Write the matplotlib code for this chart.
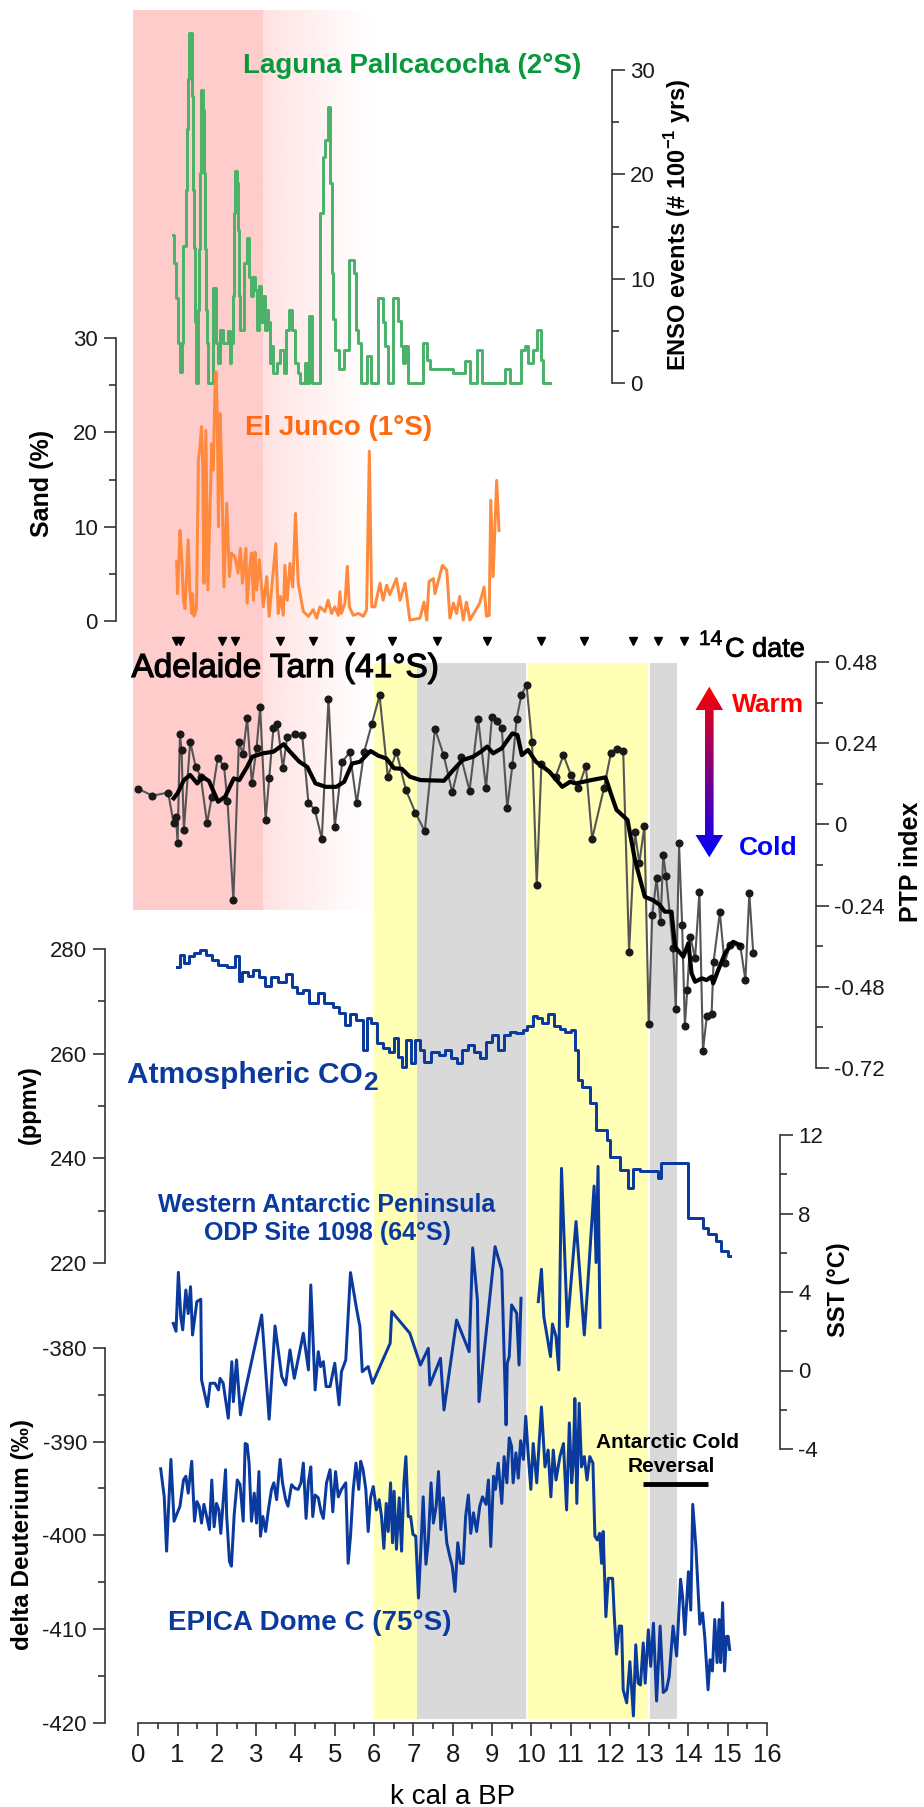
import numpy as np
import matplotlib
matplotlib.use('Agg')
import matplotlib.pyplot as plt
import matplotlib.patheffects as pe
from matplotlib.patches import Polygon, Rectangle
from matplotlib.colors import LinearSegmentedColormap, to_rgb
from matplotlib.ticker import MultipleLocator, FixedLocator, FuncFormatter

plt.rcParams['font.family'] = ['Liberation Sans', 'DejaVu Sans']
plt.rcParams['axes.unicode_minus'] = False
plt.rcParams['mathtext.fontset'] = 'custom'
plt.rcParams['mathtext.rm'] = 'Liberation Sans'
plt.rcParams['mathtext.bf'] = 'Liberation Sans:bold'

# ---------------- data ----------------
# Laguna Pallcacocha ENSO events (# per 100 yr), step series
lag_age = [0.89,0.92,0.96,1.02,1.06,1.10,1.15,1.21,1.25,1.27,
           1.30,1.37,1.40,1.42,1.45,1.47,1.53,1.55,1.57,1.59,
           1.65,1.67,1.70,1.72,1.76,1.78,1.91,1.98,2.04,2.09,
           2.16,2.29,2.33,2.37,2.42,2.43,2.47,2.52,2.54,2.57,
           2.60,2.69,2.76,2.81,2.86,2.91,2.98,3.03,3.08,3.13,
           3.18,3.22,3.27,3.31,3.35,3.39,3.44,3.52,3.60,3.71,
           3.77,3.84,3.91,3.99,4.07,4.11,4.24,4.30,4.35,4.42,
           4.62,4.69,4.76,4.82,4.89,4.93,4.96,5.00,5.12,5.23,
           5.37,5.49,5.54,5.60,5.68,5.81,5.91,6.11,6.23,6.29,
           6.36,6.49,6.62,6.68,6.74,6.80,6.87,7.24,7.35,7.42,
           8.02,8.31,8.44,8.61,8.74,9.33,9.46,9.73,9.84,9.92,
           10.05,10.15,10.26,10.31,10.48]
lag_val = [14.2,11.5,8.1,3.8,1.1,3.8,13.1,18.5,24.3,29.1,
           33.5,27.5,18.5,12.9,5.8,0,7.0,12.8,20.1,28.1,
           26.2,20.1,12.8,7.0,3.8,0,9.1,3.8,1.9,5.1,
           3.8,5.0,1.9,3.8,8.3,16.3,20.3,19.2,14.7,8.3,
           5.1,11.5,13.9,10.2,8.3,10.2,8.9,5.1,9.3,5.8,
           8.3,5.1,7.0,5.8,1.9,3.5,1.0,1.9,3.2,1.0,
           5.1,7.0,5.1,1.9,1.0,0,1.9,0,6.4,0,
           16.3,21.7,23.3,26.5,19.2,10.5,6.1,3.2,1.3,3.2,
           11.8,10.5,5.1,3.8,0,2.6,0,8.1,5.8,3.5,
           0,8.1,5.9,3.5,1.9,3.5,0,3.8,2.2,1.3,
           1.0,2.1,0,3.2,0,1.3,0,3.2,3.5,1.9,
           3.2,5.1,2.2,0,0]

# El Junco sand (%)
jun_age = [0.975,1.00,1.06,1.10,1.15,1.19,1.27,1.31,1.36,1.38,
           1.42,1.48,1.53,1.57,1.61,1.64,1.67,1.72,1.77,1.87,
           1.91,1.95,1.98,2.01,2.04,2.08,2.12,2.18,2.25,2.32,
           2.37,2.46,2.54,2.60,2.65,2.74,2.77,2.84,2.88,2.93,
           2.97,3.01,3.08,3.18,3.27,3.33,3.50,3.56,3.62,3.69,
           3.73,3.79,3.86,3.93,4.00,4.07,4.20,4.33,4.45,4.54,
           4.62,4.75,4.83,4.92,5.00,5.09,5.13,5.17,5.26,5.32,
           5.37,5.47,5.60,5.73,5.81,5.88,5.94,6.02,6.15,6.23,
           6.32,6.40,6.57,6.66,6.79,6.91,7.17,7.27,7.34,7.40,
           7.51,7.55,7.74,7.85,7.93,8.02,8.10,8.18,8.27,8.35,
           8.44,8.69,8.80,8.86,8.93,8.97,9.03,9.12,9.18]
jun_val = [6.3,2.9,9.6,7.2,2.2,1.3,8.6,3.3,0.8,2.9,
           0.5,1.3,17.1,18.5,20.6,16.4,4.0,20.2,3.3,18.8,
           16.0,24.5,26.4,21.7,10.0,22.0,16.4,3.6,12.5,4.7,
           7.2,6.8,5.1,7.7,4.0,7.7,1.9,5.8,7.2,2.2,
           7.3,3.3,6.5,1.5,4.7,0.5,8.2,0.8,2.6,0.6,
           5.9,2.2,6.1,3.6,11.4,4.0,1.0,0.5,1.2,0.3,
           1.5,1.0,2.2,0.8,1.5,0.6,3.1,0.8,1.9,5.8,
           1.5,0.6,0.8,0.5,1.2,18.0,1.5,1.5,4.0,2.2,
           3.8,2.8,4.5,2.2,4.0,0.1,0.3,2.0,0.1,4.2,
           4.5,2.9,5.9,5.4,0.3,1.9,0.8,2.6,0.1,2.0,
           0.1,1.9,3.6,0.5,0.6,12.8,4.7,14.9,9.6]

# Adelaide Tarn PTP index (samples) and smoothed curve
ptp_age = [0.0,0.36,0.76,0.90,0.96,1.00,1.06,1.10,1.16,1.32,
           1.46,1.59,1.75,1.87,2.02,2.18,2.27,2.42,2.56,2.66,
           2.77,2.89,3.01,3.10,3.24,3.33,3.44,3.54,3.68,3.79,
           4.00,4.17,4.33,4.49,4.67,4.84,5.00,5.19,5.38,5.56,
           5.75,5.94,6.14,6.35,6.57,6.81,7.05,7.29,7.55,7.77,
           7.99,8.21,8.43,8.65,8.85,9.00,9.12,9.25,9.39,9.52,
           9.63,9.75,9.88,10.02,10.14,10.26,10.62,10.82,11.01,11.20,
           11.39,11.55,11.85,12.03,12.17,12.34,12.49,12.64,12.75,12.88,
           12.99,13.08,13.19,13.29,13.36,13.43,13.61,13.68,13.76,13.84,
           13.91,13.97,14.05,14.17,14.28,14.37,14.47,14.59,14.64,14.80,
           14.92,15.06,15.32,15.45,15.55,15.65]
ptp_val = [0.105,0.085,0.094,0.003,0.023,-0.054,0.267,0.22,-0.017,0.245,
           0.17,0.141,0.003,0.082,0.195,0.173,0.069,-0.224,0.245,0.207,
           0.314,0.121,0.227,0.346,0.013,0.136,0.286,0.298,0.166,0.259,
           0.266,0.264,0.064,0.044,-0.043,0.371,-0.007,0.185,0.213,0.062,
           0.215,0.296,0.381,0.141,0.215,0.102,0.035,-0.02,0.283,0.205,
           0.095,0.2,0.1,0.311,0.107,0.318,0.306,0.284,0.048,0.176,
           0.313,0.383,0.412,0.243,-0.18,0.18,0.141,0.205,0.146,0.107,
           0.173,-0.043,0.107,0.212,0.223,0.218,-0.376,-0.023,-0.115,-0.005,
           -0.591,-0.268,-0.159,-0.288,-0.09,-0.153,-0.365,-0.546,-0.054,-0.297,
           -0.595,-0.49,-0.332,-0.396,-0.2,-0.669,-0.565,-0.561,-0.406,-0.26,
           -0.41,-0.356,-0.358,-0.46,-0.204,-0.381]
sm_age = [0.90,1.00,1.16,1.32,1.50,1.63,1.80,2.03,2.21,2.43,
          2.57,2.77,2.90,3.17,3.44,3.70,3.86,4.10,4.30,4.51,
          4.77,5.04,5.24,5.44,5.64,5.91,6.11,6.31,6.51,6.71,
          6.91,7.18,7.78,7.98,8.25,8.52,8.72,8.88,9.03,9.25,
          9.52,9.65,9.76,9.92,10.12,10.46,10.79,10.99,11.13,11.33,
          11.53,11.89,12.03,12.17,12.45,12.64,12.89,13.10,13.27,13.40,
          13.57,13.66,13.87,14.00,14.08,14.17,14.34,14.46,14.59,14.63,
          14.76,14.93,15.14,15.31]
sm_val = [0.077,0.092,0.131,0.146,0.121,0.141,0.128,0.067,0.082,0.136,
          0.131,0.17,0.2,0.21,0.215,0.237,0.215,0.185,0.17,0.121,
          0.111,0.111,0.126,0.18,0.185,0.217,0.203,0.195,0.166,0.164,
          0.141,0.131,0.129,0.156,0.19,0.2,0.215,0.23,0.21,0.225,
          0.269,0.264,0.205,0.22,0.185,0.156,0.111,0.126,0.121,0.126,
          0.131,0.139,0.09,0.043,0.013,-0.105,-0.214,-0.224,-0.238,-0.258,
          -0.258,-0.362,-0.391,-0.351,-0.44,-0.465,-0.455,-0.46,-0.45,-0.47,
          -0.43,-0.381,-0.347,-0.357]
c14_age = [0.95,1.06,2.12,2.46,3.6,4.45,5.39,6.45,7.6,8.87,10.25,11.34,12.59,13.22,13.88]

# Atmospheric CO2 (ppmv), step series
co2_age = [0.98,1.06,1.16,1.28,1.43,1.58,1.73,1.88,2.03,2.25,
           2.45,2.56,2.63,2.78,2.93,3.08,3.23,3.38,3.56,3.75,
           3.90,4.05,4.20,4.35,4.58,4.73,4.95,5.10,5.25,5.40,
           5.55,5.73,5.81,5.93,6.08,6.23,6.38,6.50,6.60,6.71,
           6.82,6.95,7.05,7.16,7.28,7.46,7.65,7.80,7.95,8.10,
           8.25,8.40,8.55,8.70,8.85,9.00,9.15,9.30,9.45,9.60,
           9.79,9.90,10.05,10.15,10.27,10.42,10.57,10.72,10.87,11.02,
           11.11,11.20,11.28,11.49,11.66,11.92,12.00,12.26,12.47,12.58,
           12.77,13.10,13.23,13.31,13.65,13.99,14.33,14.38,14.50,14.71,
           14.84,15.01,15.05]
co2_val = [276.6,278.9,277.3,278.7,279.2,279.9,278.9,277.9,276.9,276.6,
           278.7,273.8,275.7,274.8,276.0,274.7,272.9,274.7,273.6,275.3,
           272.8,271.5,272.2,269.7,271.5,269.6,269.0,267.7,265.5,267.6,
           266.4,260.7,266.8,265.8,262.0,261.0,260.4,262.9,259.4,257.5,
           262.6,258.2,262.6,260.7,258.5,260.4,259.7,260.7,259.1,258.2,
           260.7,261.7,260.4,259.1,262.3,263.6,260.7,263.6,264.2,263.9,
           264.5,265.2,267.2,266.8,265.8,267.6,265.2,264.8,264.2,264.5,
           260.7,255.0,253.7,250.5,245.4,243.5,240.3,237.8,234.3,237.9,
           237.5,237.5,236.2,239.1,239.1,228.6,228.6,226.7,225.5,224.2,
           222.3,221.3,221.3]

# ODP Site 1098 SST (deg C); NaN = gap
sst_age = [0.89,0.96,1.02,1.08,1.13,1.21,1.27,1.33,1.38,1.49,
           1.59,1.61,1.76,1.83,1.95,2.04,2.08,2.16,2.29,2.38,
           2.42,2.50,2.60,2.67,3.14,3.33,3.48,3.65,3.75,3.86,
           3.97,4.20,4.33,4.39,4.50,4.58,4.64,4.71,4.78,4.88,
           5.00,5.11,5.17,5.28,5.40,5.56,5.64,5.70,5.85,5.96,
           6.41,6.45,6.91,7.18,7.38,7.42,7.69,7.78,8.10,8.42,
           8.51,8.63,8.67,9.08,9.25,9.36,9.39,9.44,9.50,9.63,
           9.69,9.74,9.95,10.18,10.26,10.32,10.49,10.54,10.63,10.70,
           10.77,10.92,11.14,11.35,11.43,11.60,11.65,11.70,11.75]
sst_val = [2.4,2.0,5.0,2.75,2.07,4.1,2.9,4.27,1.81,3.51,
           3.63,-0.48,-1.84,-0.65,-0.65,-0.99,-0.4,-0.65,-2.43,0.45,
           -1.59,0.54,-2.26,-1.5,2.83,-2.48,2.27,-0.31,-0.74,1.05,
           -0.4,1.9,0.03,4.36,-0.99,0.96,0.2,0.45,-0.82,-0.82,
           0.37,-1.75,-0.06,0.54,4.99,3.08,2.24,-0.06,0.2,-0.65,
           1.39,3.0,1.9,0.28,1.13,-0.74,0.62,-2.01,2.57,0.96,
           6.25,3.59,-1.59,6.31,5.12,-2.77,0.37,0.71,3.34,2.92,
           0.28,3.68,np.nan,3.51,5.16,2.74,0.71,2.37,1.73,0.03,
           10.3,2.24,7.59,1.81,4.1,9.4,5.5,10.4,2.2]

# EPICA Dome C delta Deuterium (permil)
epi_age = [0.57,0.66,0.72,0.78,0.83,0.91,1.06,1.15,1.21,1.27,
           1.36,1.43,1.49,1.55,1.61,1.67,1.74,1.81,1.87,1.93,
           1.99,2.05,2.10,2.22,2.25,2.32,2.37,2.44,2.52,2.59,
           2.67,2.72,2.77,2.82,2.88,2.95,3.01,3.07,3.11,3.17,
           3.24,3.31,3.39,3.45,3.52,3.61,3.67,3.75,3.81,3.90,
           3.99,4.07,4.14,4.20,4.27,4.33,4.39,4.44,4.50,4.58,
           4.65,4.71,4.79,4.88,4.95,5.02,5.09,5.17,5.28,5.34,
           5.40,5.47,5.54,5.61,5.66,5.72,5.79,5.85,5.91,5.98,
           6.06,6.13,6.19,6.25,6.31,6.36,6.42,6.47,6.51,6.57,
           6.64,6.70,6.76,6.81,6.87,6.93,6.99,7.06,7.13,7.19,
           7.25,7.32,7.38,7.45,7.51,7.58,7.64,7.70,7.76,7.85,
           7.93,7.99,8.06,8.13,8.20,8.27,8.33,8.40,8.46,8.53,
           8.61,8.69,8.76,8.85,8.91,8.97,9.04,9.09,9.16,9.25,
           9.31,9.38,9.44,9.50,9.54,9.61,9.67,9.73,9.80,9.86,
           9.92,9.99,10.05,10.14,10.20,
           10.26,10.35,10.43,10.50,10.56,10.63,10.73,10.82,10.90,10.97,
           11.03,11.07,11.11,11.16,11.22,11.28,11.35,11.42,11.49,11.57,
           11.62,11.68,11.74,11.79,11.83,11.90,11.96,12.07,12.11,12.17,
           12.24,12.30,12.34,12.43,12.51,12.60,12.66,12.72,12.78,12.85,
           12.90,12.98,13.04,13.11,13.19,13.28,13.36,13.44,13.51,13.61,
           13.70,13.80,13.85,13.91,14.00,14.06,14.11,14.19,14.29,14.36,
           14.42,14.50,14.55,14.61,14.67,14.73,14.78,14.82,14.87,14.92,
           14.97,15.01,15.05]
epi_val = [-392.9,-395.9,-401.7,-396.2,-391.9,-398.5,-396.9,-394.1,-393.7,-395.5,
           -392.1,-398.5,-396.4,-396.9,-398.7,-396.7,-398.0,-399.4,-394.1,-399.1,
           -396.6,-397.3,-399.8,-393.0,-398.0,-402.8,-403.3,-397.8,-394.1,-394.6,
           -398.5,-390.2,-390.3,-392.3,-398.5,-395.5,-398.7,-393.2,-400.1,-398.0,
           -399.6,-397.3,-395.1,-394.4,-396.2,-391.9,-394.4,-396.2,-396.9,-394.6,
           -395.0,-395.1,-394.4,-392.3,-398.2,-394.3,-392.7,-398.0,-395.7,-396.0,
           -397.5,-398.2,-394.4,-393.0,-397.5,-393.2,-395.9,-395.1,-394.4,-403.0,
           -400.1,-395.1,-392.3,-395.1,-392.1,-393.0,-395.1,-399.6,-396.0,-394.8,
           -397.3,-396.2,-398.0,-401.4,-396.6,-399.6,-394.4,-400.8,-395.3,-401.5,
           -396.0,-401.7,-394.4,-391.6,-398.0,-398.0,-399.9,-400.1,-406.7,-401.5,
           -395.9,-403.1,-400.7,-394.4,-398.7,-396.9,-393.2,-399.4,-396.0,-400.8,
           -402.3,-403.3,-406.0,-400.8,-403.0,-403.0,-398.0,-395.7,-399.8,-397.6,
           -399.6,-396.9,-395.9,-396.7,-394.1,-401.2,-393.7,-395.1,-392.3,-396.6,
           -391.6,-394.4,-389.6,-390.5,-394.4,-391.2,-393.9,-389.9,-391.9,-387.3,
           -391.2,-395.1,-390.2,-394.4,-390.2,
           -386.3,-392.7,-390.9,-395.9,-390.9,-394.1,-391.6,-390.2,-397.3,-388.0,
           -394.4,-392.1,-385.4,-396.6,-385.9,-392.7,-391.6,-394.1,-391.6,-392.3,
           -400.1,-400.5,-399.8,-403.0,-399.6,-408.7,-404.6,-404.6,-408.3,-412.7,
           -409.7,-409.7,-416.5,-417.9,-413.5,-419.3,-411.7,-415.8,-416.0,-411.5,
           -415.8,-410.1,-414.0,-409.4,-417.7,-409.7,-416.8,-416.5,-415.1,-409.7,
           -412.9,-404.7,-406.5,-410.6,-403.9,-408.0,-396.7,-401.2,-409.5,-408.3,
           -411.1,-416.5,-413.3,-414.5,-409.0,-413.6,-409.0,-413.6,-407.2,-414.5,
           -410.8,-410.8,-412.2]

# shaded intervals (ka)
band_start = [6.0, 7.1, 9.9, 13.0]
band_end = [7.1, 9.9, 13.0, 13.7]
band_color = ['#ffffb5', '#d9d9d9', '#ffffb5', '#d9d9d9']
pink_span = [-0.13, 3.17, 5.95]     # solid start, solid end / fade start, fade end
acr_span = [12.85, 14.5]
acr_level = -394.5

x_ticks = list(range(0, 17))
sand_ticks = [0, 10, 20, 30]
enso_ticks = [0, 10, 20, 30]
ptp_ticks = [-0.72, -0.48, -0.24, 0, 0.24, 0.48]
co2_ticks = [220, 240, 260, 280]
sst_ticks = [-4, 0, 4, 8, 12]
epi_ticks = [-420, -410, -400, -390, -380]

# ---------------- layout ----------------
W, H, DPI = 924, 1807, 100
fig = plt.figure(figsize=(W / DPI, H / DPI), dpi=DPI)
X0, X1, XMAX = 138.3, 767.0, 16.0
AXC = '#333333'
GREEN, GREEN_T = '#4cb26a', '#07993c'
ORANGE, ORANGE_T = '#ff8a3d', '#ff6a10'
BLUE = '#0a3a9e'
LW = 2.15


def px2ka(px):
    return (px - X0) / (X1 - X0) * XMAX


def fx(px):
    return px / W


def fy(py):
    return 1 - py / H


def add_ax(top, bot, z):
    ax = fig.add_axes([fx(X0), fy(bot), (X1 - X0) / W, (bot - top) / H], zorder=z)
    ax.set_facecolor('none')
    ax.set_xlim(0, XMAX)
    for s in ax.spines.values():
        s.set_visible(False)
    ax.tick_params(axis='x', which='both', bottom=False, labelbottom=False)
    ax.tick_params(axis='y', which='both', left=False, labelleft=False,
                   right=False, labelright=False)
    return ax


def mids(t):
    return [(a + b) / 2 for a, b in zip(t[:-1], t[1:])]


def style_y(ax, side, xpos_px, major, labelsize=16, fmt=None):
    sp = ax.spines[side]
    sp.set_visible(True)
    sp.set_position(('data', px2ka(xpos_px)))
    sp.set_color(AXC)
    sp.set_linewidth(1.2)
    ax.yaxis.set_major_locator(FixedLocator(major))
    ax.yaxis.set_minor_locator(FixedLocator(mids(major)))
    if side == 'left':
        ax.tick_params(axis='y', which='both', left=True, labelleft=True)
    else:
        ax.tick_params(axis='y', which='both', right=True, labelright=True)
    ax.tick_params(axis='y', which='major', length=9, width=1.2, color=AXC,
                   labelsize=labelsize, pad=4, labelcolor='#1a1a1a', direction='out')
    ax.tick_params(axis='y', which='minor', length=5, width=1.2, color=AXC, direction='out')
    if fmt is not None:
        ax.yaxis.set_major_formatter(FuncFormatter(fmt))


# background: bands and pink shading (x in ka, y in pixels)
bg = fig.add_axes([0, 0, 1, 1], zorder=0)
bg.axis('off')
for s, e, c in zip(band_start, band_end, band_color):
    bg.add_patch(Rectangle((s, 663), e - s, 1719 - 663, facecolor=c, lw=0))
bg.vlines([band_start[2], band_start[3]], 663, 1719, color='white', lw=1.3)
bg.add_patch(Rectangle((pink_span[0], 10), pink_span[1] - pink_span[0], 900,
                       facecolor='#ffcccc', lw=0))
grad = np.zeros((1, 256, 4))
grad[..., :3] = to_rgb('#ffe1e1')
grad[..., 3] = np.linspace(1, 0, 256) ** 1.2
bg.imshow(grad, extent=(pink_span[1], pink_span[2], 910, 10), aspect='auto',
          interpolation='bilinear')
bg.set_xlim(px2ka(0), px2ka(W))
bg.set_ylim(H, 0)

# Laguna Pallcacocha
ax_lag = add_ax(70, 383, 3)
ax_lag.set_ylim(0, 30)
ax_lag.plot(lag_age, lag_val, drawstyle='steps-post', color=GREEN, lw=LW, clip_on=False)
style_y(ax_lag, 'right', 612, enso_ticks)

# El Junco
ax_jun = add_ax(338, 621, 3)
ax_jun.set_ylim(0, 30)
ax_jun.plot(jun_age, jun_val, color=ORANGE, lw=LW, clip_on=False)
style_y(ax_jun, 'left', 116, sand_ticks)

# Adelaide Tarn
ax_ptp = add_ax(662, 1068, 4)
ax_ptp.set_ylim(-0.72, 0.48)
ax_ptp.plot(ptp_age, ptp_val, color='#555555', lw=1.5, marker='o', ms=4.8,
            mfc='#1a1a1a', mec='#1a1a1a', clip_on=False)
ax_ptp.plot(sm_age, sm_val, color='black', lw=3.0, clip_on=False)
c14_level = 0.48 + (662 - 641) / (1068 - 662) * 1.2
ax_ptp.plot(c14_age, [c14_level] * len(c14_age), ls='none', marker='v', ms=6,
            color='black', clip_on=False)
style_y(ax_ptp, 'right', 816, ptp_ticks,
        fmt=lambda v, p: '0' if abs(v) < 1e-9 else f'{v:.2f}')

# CO2
ax_co2 = add_ax(949, 1263, 3)
ax_co2.set_ylim(220, 280)
ax_co2.plot(co2_age, co2_val, drawstyle='steps-post', color=BLUE, lw=LW, clip_on=False)
style_y(ax_co2, 'left', 105, co2_ticks)

# SST
ax_sst = add_ax(1135, 1449, 3)
ax_sst.set_ylim(-4, 12)
ax_sst.plot(sst_age, sst_val, color=BLUE, lw=LW, clip_on=False)
style_y(ax_sst, 'right', 780, sst_ticks)

# EPICA
ax_epi = add_ax(1348, 1722.5, 3)
ax_epi.set_ylim(-420, -380)
ax_epi.plot(epi_age, epi_val, color=BLUE, lw=LW, clip_on=False)
ax_epi.plot(acr_span, [acr_level, acr_level], color='black', lw=3.5, solid_capstyle='butt')
style_y(ax_epi, 'left', 105, epi_ticks)
sp = ax_epi.spines['bottom']
sp.set_visible(True)
sp.set_color(AXC)
sp.set_linewidth(1.2)
sp.set_bounds(0, XMAX)
ax_epi.xaxis.set_major_locator(FixedLocator(x_ticks))
ax_epi.xaxis.set_minor_locator(MultipleLocator(0.5))
ax_epi.tick_params(axis='x', which='both', bottom=True, labelbottom=True, direction='out')
ax_epi.tick_params(axis='x', which='major', length=9, width=1.2, color=AXC,
                   labelsize=18.5, pad=6, labelcolor='#1a1a1a')
ax_epi.tick_params(axis='x', which='minor', length=4.5, width=1.2, color=AXC)

# decoration layer (pixel coordinates)
deco = fig.add_axes([0, 0, 1, 1], zorder=20)
deco.axis('off')
deco.patch.set_alpha(0)
cx, sw, hw = 709.3, 4.3, 13.8
ytop, yhb1, yhb2, ybot = 686.7, 710.0, 835.0, 857.3
verts = [(cx, ytop), (cx + hw, yhb1), (cx + sw, yhb1), (cx + sw, yhb2), (cx + hw, yhb2),
         (cx, ybot), (cx - hw, yhb2), (cx - sw, yhb2), (cx - sw, yhb1), (cx - hw, yhb1)]
poly = Polygon(verts, closed=True, facecolor='none', edgecolor='none')
deco.add_patch(poly)
cmap_wc = LinearSegmentedColormap.from_list('wc', ['#0000ff', '#ff0000'])
im = deco.imshow(np.linspace(0, 1, 256).reshape(-1, 1), cmap=cmap_wc, origin='lower',
                 extent=(cx - 15, cx + 15, ybot, ytop), aspect='auto')
im.set_clip_path(poly)
deco.set_xlim(0, W)
deco.set_ylim(H, 0)

TZ = 30
# series titles
fig.text(fx(243), fy(73.3), 'Laguna Pallcacocha (2°S)', color=GREEN_T, fontsize=20,
         fontweight='bold', va='baseline', zorder=TZ)
fig.text(fx(245), fy(435), 'El Junco (1°S)', color=ORANGE_T, fontsize=20,
         fontweight='bold', va='baseline', zorder=TZ)
fig.text(fx(131.5), fy(677), 'Adelaide Tarn (41°S)', color='black', fontsize=24,
         va='baseline', zorder=TZ,
         path_effects=[pe.withStroke(linewidth=0.9, foreground='black')])
fig.text(fx(699), fy(645), '14', fontsize=15, va='baseline', zorder=TZ,
         path_effects=[pe.withStroke(linewidth=0.5, foreground='black')])
fig.text(fx(725), fy(656.7), 'C date', fontsize=19.5, va='baseline', zorder=TZ,
         path_effects=[pe.withStroke(linewidth=0.6, foreground='black')])
fig.text(fx(768), fy(711.7), 'Warm', color='#ff0000', fontsize=19, fontweight='bold',
         ha='center', va='baseline', zorder=TZ)
fig.text(fx(768), fy(855), 'Cold', color='#0000ff', fontsize=19, fontweight='bold',
         ha='center', va='baseline', zorder=TZ)
t_co2 = fig.text(fx(127), fy(1083), 'Atmospheric CO', color=BLUE, fontsize=21.5,
                 fontweight='bold', va='baseline', zorder=TZ)
deco.annotate('2', xy=(1, 0), xycoords=t_co2, xytext=(0.5, -4.5), textcoords='offset points',
              color=BLUE, fontsize=19, fontweight='bold', ha='left', va='bottom')
fig.text(fx(327), fy(1211.7), 'Western Antarctic Peninsula', color=BLUE, fontsize=18,
         fontweight='bold', ha='center', va='baseline', zorder=TZ)
fig.text(fx(327), fy(1240), 'ODP Site 1098 (64°S)', color=BLUE, fontsize=18,
         fontweight='bold', ha='center', va='baseline', zorder=TZ)
fig.text(fx(168), fy(1630), 'EPICA Dome C (75°S)', color=BLUE, fontsize=20,
         fontweight='bold', va='baseline', zorder=TZ)
fig.text(fx(668), fy(1448), 'Antarctic Cold', color='black', fontsize=15,
         fontweight='bold', ha='center', va='baseline', zorder=TZ)
fig.text(fx(671), fy(1472), 'Reversal', color='black', fontsize=15,
         fontweight='bold', ha='center', va='baseline', zorder=TZ)

# axis labels
lab = dict(rotation=90, ha='center', va='center', fontweight='bold', color='black', zorder=TZ)
fig.text(fx(42), fy(483), 'Sand (%)', fontsize=18, **lab)
fig.text(fx(678), fy(225), r'ENSO events (# 100$^{\mathbf{-1}}$ yrs)', fontsize=17, **lab)
fig.text(fx(911), fy(862), 'PTP index', fontsize=18, **lab)
fig.text(fx(29.5), fy(1105), '(ppmv)', fontsize=17, **lab)
fig.text(fx(838), fy(1290), 'SST (°C)', fontsize=17, **lab)
fig.text(fx(22.5), fy(1535), 'delta Deuterium (‰)', fontsize=17.5, **lab)
fig.text(fx(452.6), fy(1804), 'k cal a BP', fontsize=20, ha='center', va='baseline',
         zorder=TZ)

fig.savefig('out.png', dpi=DPI)
